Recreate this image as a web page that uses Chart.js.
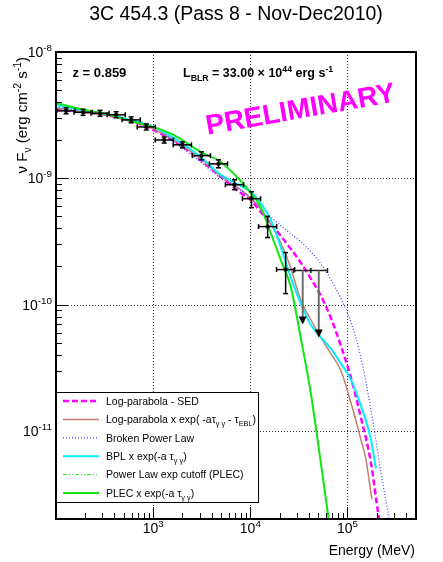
<!DOCTYPE html>
<html>
<head>
<meta charset="utf-8">
<script src="https://cdn.jsdelivr.net/npm/chart.js@4.4.1/dist/chart.umd.min.js"></script>
<style>
  html, body { margin: 0; padding: 0; background: #fff; }
</style>
</head>
<body>
<canvas id="sed" width="443" height="562"></canvas>
<script>
// Fermi-LAT points (MeV, erg cm-2 s-1)
const energy   = [127, 190, 284, 416, 594, 849, 1300, 2000, 3135, 4700, 6870, 10280, 15060, 23080];
const energyLo = [102, 153, 229, 335, 479, 685, 1050, 1610, 2530, 3790, 5540, 8290, 12150, 18610];
const energyHi = [157, 236, 352, 516, 737, 1053, 1616, 2476, 3887, 5824, 8519, 12750, 18670, 28620];
const flux   = [3.42e-9, 3.33e-9, 3.27e-9, 3.18e-9, 2.90e-9, 2.55e-9, 2.01e-9, 1.84e-9, 1.51e-9, 1.30e-9, 8.89e-10, 6.89e-10, 4.14e-10, 1.89e-10];
const fluxLo = [3.24e-9, 3.15e-9, 3.10e-9, 3.01e-9, 2.75e-9, 2.41e-9, 1.90e-9, 1.74e-9, 1.40e-9, 1.21e-9, 8.11e-10, 5.85e-10, 3.39e-10, 1.22e-10];
const fluxHi = [3.61e-9, 3.52e-9, 3.45e-9, 3.36e-9, 3.06e-9, 2.69e-9, 2.12e-9, 1.94e-9, 1.62e-9, 1.40e-9, 9.73e-10, 7.82e-10, 4.99e-10, 2.58e-10];

// upper limits
const ulEnergy   = [34600, 50600];
const ulEnergyLo = [27900, 41800];
const ulEnergyHi = [41800, 62200];
const ulFlux     = [1.86e-10, 1.86e-10];
const ulArrowTo  = [6.95e-11, 5.48e-11];

// model curves
const lpEnergy = [100, 177, 320, 580, 1000, 1690, 3060, 4930, 7920, 10050, 12740, 16160, 20500, 25990, 32970, 41810, 53030, 67250, 85300, 108200, 137200, 174000, 200600, 215400];
const lpFlux   = [3.48e-9, 3.35e-9, 3.18e-9, 2.85e-9, 2.42e-9, 1.94e-9, 1.40e-9, 1.03e-9, 7.68e-10, 6.76e-10, 5.43e-10, 4.37e-10, 3.51e-10, 2.77e-10, 2.15e-10, 1.61e-10, 1.18e-10, 7.89e-11, 4.74e-11, 2.65e-11, 1.28e-11, 5.64e-12, 2.62e-12, 1.82e-12];

const lpAbsEnergy = [100, 177, 320, 580, 1000, 1690, 3060, 4930, 7920, 10050, 12740, 16160, 20500, 25990, 32970, 41810, 53030, 67250, 85300, 108200, 137200, 154500, 178200];
const lpAbsFlux   = [3.61e-9, 3.35e-9, 3.18e-9, 2.85e-9, 2.46e-9, 1.98e-9, 1.43e-9, 1.05e-9, 8.11e-10, 7.01e-10, 5.74e-10, 4.37e-10, 3.09e-10, 1.96e-10, 1.09e-10, 7.61e-11, 5.48e-11, 4.10e-11, 3.01e-11, 1.68e-11, 8.57e-12, 5.95e-12, 2.87e-12];

const bplEnergy = [100, 177, 320, 580, 1000, 1690, 3060, 4930, 7920, 10050, 12740, 16160, 20500, 25990, 32970, 41810, 53030, 67250, 85300, 108200, 137200, 174000, 220700, 279800];
const bplFlux   = [3.67e-9, 3.42e-9, 3.18e-9, 2.90e-9, 2.60e-9, 1.91e-9, 1.35e-9, 1.01e-9, 8.11e-10, 6.88e-10, 5.85e-10, 4.96e-10, 4.21e-10, 3.64e-10, 3.15e-10, 2.62e-10, 2.11e-10, 1.58e-10, 1.12e-10, 7.34e-11, 3.81e-11, 1.48e-11, 4.70e-12, 1.66e-12];

const bplAbsEnergy = [100, 177, 320, 580, 1000, 1690, 3060, 4930, 7920, 10050, 12740, 16160, 20500, 25990, 32970, 41810, 53030, 67250, 85300, 108200, 137200, 174000, 195900];
const bplAbsFlux   = [3.81e-9, 3.48e-9, 3.24e-9, 2.90e-9, 2.55e-9, 2.05e-9, 1.48e-9, 1.07e-9, 8.72e-10, 7.82e-10, 6.40e-10, 4.70e-10, 2.87e-10, 1.66e-10, 1.02e-10, 6.95e-11, 5.48e-11, 4.49e-11, 3.42e-11, 2.55e-11, 1.59e-11, 8.57e-12, 5.05e-12];

const plecEnergy = [100, 177, 320, 580, 1000, 1690, 3060, 4930, 7920, 10050, 12740, 16160, 20500, 25990, 32970, 41810, 53030, 67250];
const plecFlux   = [3.95e-9, 3.54e-9, 3.24e-9, 2.85e-9, 2.55e-9, 2.17e-9, 1.62e-9, 1.35e-9, 9.55e-10, 7.68e-10, 5.95e-10, 3.71e-10, 2.27e-10, 1.39e-10, 5.48e-11, 2.01e-11, 5.64e-12, 1.52e-12];

const plecAbsEnergy = [100, 177, 320, 580, 1000, 1690, 3060, 4930, 7920, 10050, 12740, 16160, 20500, 25990, 32970, 41810, 53030, 67250];
const plecAbsFlux   = [3.95e-9, 3.54e-9, 3.24e-9, 2.85e-9, 2.55e-9, 2.17e-9, 1.62e-9, 1.35e-9, 9.55e-10, 7.68e-10, 5.95e-10, 3.71e-10, 2.27e-10, 1.39e-10, 5.48e-11, 2.01e-11, 5.64e-12, 1.52e-12];

// axes
const xMin = 100, xMax = 5.07e5;
const yMin = 2e-12, yMax = 1e-8;
const xTickExps = [3, 4, 5];
const yTickExps = [-8, -9, -10, -11];
const xGridValues = [1e3, 1e4, 1e5];
const yGridValues = [1e-9, 1e-10, 1e-11];

// legend texts: [text, 'n' | 'sub' | 'sup']
const legendLabels = [
    [['Log-parabola - SED', 'n']],
    [['Log-parabola x exp( -aτ', 'n'], ['γ γ', 'sub'], [' - τ', 'n'], ['EBL', 'sub'], [')', 'n']],
    [['Broken Power Law', 'n']],
    [['BPL x exp(-a τ', 'n'], ['γ γ', 'sub'], [')', 'n']],
    [['Power Law exp cutoff (PLEC)', 'n']],
    [['PLEC x exp(-a τ', 'n'], ['γ γ', 'sub'], [')', 'n']]
];

const FAM = '"Liberation Sans", Arial, Helvetica, sans-serif';
const toXY = (xs, ys) => xs.map((v, i) => ({ x: v, y: ys[i] }));

function drawRich(ctx, parts, x, y, size, bold, align) {
    const font = s => (bold ? 'bold ' : '') + s + 'px ' + FAM;
    const small = size * 0.7;
    let total = 0;
    const widths = parts.map(([t, m]) => {
        ctx.font = font(m === 'n' ? size : small);
        const w = ctx.measureText(t).width;
        total += w;
        return w;
    });
    let cx = align === 'right' ? x - total : align === 'center' ? x - total / 2 : x;
    ctx.textAlign = 'left';
    ctx.textBaseline = 'alphabetic';
    parts.forEach(([t, m], i) => {
        ctx.font = font(m === 'n' ? size : small);
        const dy = m === 'sup' ? -size * 0.42 : m === 'sub' ? size * 0.28 : 0;
        ctx.fillText(t, cx, y + dy);
        cx += widths[i];
    });
}

function seg(ctx, x0, y0, x1, y1) {
    ctx.beginPath();
    ctx.moveTo(x0, y0);
    ctx.lineTo(x1, y1);
    ctx.stroke();
}

const rootStyle = {
    id: 'rootStyle',
    beforeDatasetsDraw(chart) {
        const { ctx, chartArea: a, scales: { x, y } } = chart;
        ctx.save();
        ctx.strokeStyle = '#333';
        ctx.lineWidth = 1;
        ctx.setLineDash([1, 2]);
        xGridValues.forEach(v => {
            const px = Math.round(x.getPixelForValue(v)) + 0.5;
            seg(ctx, px, a.top, px, a.bottom);
        });
        yGridValues.forEach(v => {
            const py = Math.round(y.getPixelForValue(v)) + 0.5;
            seg(ctx, a.left, py, a.right, py);
        });
        ctx.restore();
    },
    afterDatasetsDraw(chart) {
        const { ctx, chartArea: a, scales: { x, y } } = chart;
        ctx.save();

        // error bars
        ctx.strokeStyle = '#000';
        ctx.lineWidth = 1.5;
        energy.forEach((e, i) => {
            const px = x.getPixelForValue(e), py = y.getPixelForValue(flux[i]);
            const x0 = x.getPixelForValue(energyLo[i]), x1 = x.getPixelForValue(energyHi[i]);
            const y0 = y.getPixelForValue(fluxHi[i]), y1 = y.getPixelForValue(fluxLo[i]);
            seg(ctx, x0, py, x1, py);
            seg(ctx, x0, py - 2.5, x0, py + 2.5);
            seg(ctx, x1, py - 2.5, x1, py + 2.5);
            seg(ctx, px, y0, px, y1);
            seg(ctx, px - 2.5, y0, px + 2.5, y0);
            seg(ctx, px - 2.5, y1, px + 2.5, y1);
        });

        // upper limits
        ulEnergy.forEach((e, i) => {
            const px = x.getPixelForValue(e), py = y.getPixelForValue(ulFlux[i]);
            const x0 = x.getPixelForValue(ulEnergyLo[i]), x1 = x.getPixelForValue(ulEnergyHi[i]);
            const pe = y.getPixelForValue(ulArrowTo[i]);
            ctx.strokeStyle = '#222';
            ctx.lineWidth = 1.5;
            seg(ctx, x0, py, x1, py);
            seg(ctx, x0, py - 2.5, x0, py + 2.5);
            seg(ctx, x1, py - 2.5, x1, py + 2.5);
            ctx.strokeStyle = '#6e6e6e';
            ctx.lineWidth = 2;
            seg(ctx, px, py, px, pe - 6);
            ctx.fillStyle = '#000';
            ctx.beginPath();
            ctx.moveTo(px - 4, pe - 8);
            ctx.lineTo(px + 4, pe - 8);
            ctx.lineTo(px, pe);
            ctx.closePath();
            ctx.fill();
        });

        // frame
        ctx.strokeStyle = '#000';
        ctx.lineWidth = 2;
        ctx.strokeRect(a.left, a.top, a.right - a.left, a.bottom - a.top);

        // ticks
        ctx.lineWidth = 1;
        for (let n = 2; n <= 5; n++) {
            for (let m = 1; m <= 9; m++) {
                const v = m * Math.pow(10, n);
                if (v <= xMin || v >= xMax) continue;
                const px = Math.round(x.getPixelForValue(v)) + 0.5;
                seg(ctx, px, a.bottom, px, a.bottom - (m === 1 ? 12 : 6));
            }
        }
        for (let n = -12; n <= -9; n++) {
            for (let m = 1; m <= 9; m++) {
                const v = m * Math.pow(10, n);
                if (v <= yMin || v >= yMax) continue;
                const py = Math.round(y.getPixelForValue(v)) + 0.5;
                seg(ctx, a.left, py, a.left + (m === 1 ? 12 : 6), py);
            }
        }

        // tick labels
        ctx.fillStyle = '#000';
        xTickExps.forEach(n => {
            drawRich(ctx, [['10', 'n'], [String(n), 'sup']], x.getPixelForValue(Math.pow(10, n)), a.bottom + 14, 14, false, 'center');
        });
        yTickExps.forEach(n => {
            drawRich(ctx, [['10', 'n'], [String(n), 'sup']], a.left - 4, y.getPixelForValue(Math.pow(10, n)) + 5, 14, false, 'right');
        });

        // axis titles
        drawRich(ctx, [['Energy (MeV)', 'n']], a.right - 1, 555, 14, false, 'right');
        ctx.save();
        ctx.translate(27, a.top + 5);
        ctx.rotate(-Math.PI / 2);
        drawRich(ctx, [['ν F', 'n'], ['ν', 'sub'], [' (erg cm', 'n'], ['-2', 'sup'], [' s', 'n'], ['-1', 'sup'], [')', 'n']], 0, 0, 15, false, 'right');
        ctx.restore();

        // title
        drawRich(ctx, [['3C 454.3 (Pass 8 - Nov-Dec2010)', 'n']], (a.left + a.right) / 2, 20, 19.5, false, 'center');

        // notes
        drawRich(ctx, [['z = 0.859', 'n']], 72.5, 77, 13, true, 'left');
        drawRich(ctx, [['L', 'n'], ['BLR', 'sub'], [' = 33.00 ', 'n'], ['×', 'n'], [' 10', 'n'], ['44', 'sup'], [' erg s', 'n'], ['-1', 'sup']], 183, 77, 12.5, true, 'left');

        ctx.save();
        ctx.translate(302, 118);
        ctx.rotate(-10 * Math.PI / 180);
        ctx.fillStyle = '#ff00ff';
        ctx.font = 'bold 28px ' + FAM;
        ctx.textAlign = 'center';
        ctx.textBaseline = 'alphabetic';
        ctx.fillText('PRELIMINARY', 0, 0);
        ctx.restore();

        // legend
        const lx = a.left, ly = 392, lw = 202, lh = 110;
        ctx.fillStyle = '#fff';
        ctx.fillRect(lx, ly, lw, lh);
        ctx.strokeStyle = '#000';
        ctx.lineWidth = 1;
        ctx.strokeRect(lx + 0.5, ly + 0.5, lw, lh);
        const sets = chart.data.datasets.filter(d => d.legendIndex !== undefined)
            .sort((p, q) => p.legendIndex - q.legendIndex);
        sets.forEach((d, i) => {
            const ry = ly + 9 + i * 18.4;
            ctx.save();
            ctx.strokeStyle = d.borderColor;
            ctx.lineWidth = d.borderWidth;
            ctx.setLineDash(d.borderDash || []);
            seg(ctx, lx + 7, ry, lx + 43, ry);
            ctx.restore();
            ctx.fillStyle = '#000';
            drawRich(ctx, legendLabels[i], lx + 50, ry + 3.7, 10.5, false, 'left');
        });

        ctx.restore();
    }
};

const lineBase = { showLine: true, pointRadius: 0, fill: false, cubicInterpolationMode: 'monotone' };

new Chart(document.getElementById('sed'), {
    type: 'line',
    data: {
        datasets: [
            { ...lineBase, label: 'Log-parabola - SED', legendIndex: 0, order: 6,
              data: toXY(lpEnergy, lpFlux), borderColor: '#ff00ff', borderWidth: 2.5, borderDash: [6, 3] },
            { ...lineBase, label: 'Log-parabola x exp', legendIndex: 1, order: 5,
              data: toXY(lpAbsEnergy, lpAbsFlux), borderColor: '#c08070', borderWidth: 1.5 },
            { ...lineBase, label: 'Broken Power Law', legendIndex: 2, order: 4,
              data: toXY(bplEnergy, bplFlux), borderColor: '#3f3fff', borderWidth: 1.2, borderDash: [1, 2] },
            { ...lineBase, label: 'BPL x exp', legendIndex: 3, order: 3,
              data: toXY(bplAbsEnergy, bplAbsFlux), borderColor: '#00f0ff', borderWidth: 2 },
            { ...lineBase, label: 'PLEC', legendIndex: 4, order: 2,
              data: toXY(plecEnergy, plecFlux), borderColor: '#22dd22', borderWidth: 1, borderDash: [4, 2, 1, 2, 1, 2] },
            { ...lineBase, label: 'PLEC x exp', legendIndex: 5, order: 1,
              data: toXY(plecAbsEnergy, plecAbsFlux), borderColor: '#14e614', borderWidth: 2 },
            { label: 'LAT data', order: 0, showLine: false,
              data: toXY(energy, flux), pointStyle: 'rect', pointRadius: 2.5,
              backgroundColor: '#000', borderColor: '#000', borderWidth: 0 }
        ]
    },
    options: {
        responsive: false,
        animation: false,
        devicePixelRatio: 1,
        layout: { padding: { left: 56, top: 52, right: 27, bottom: 43 } },
        plugins: { legend: { display: false }, title: { display: false }, tooltip: { enabled: false } },
        scales: {
            x: { type: 'logarithmic', min: xMin, max: xMax, display: false },
            y: { type: 'logarithmic', min: yMin, max: yMax, display: false }
        }
    },
    plugins: [rootStyle]
});
</script>
</body>
</html>
